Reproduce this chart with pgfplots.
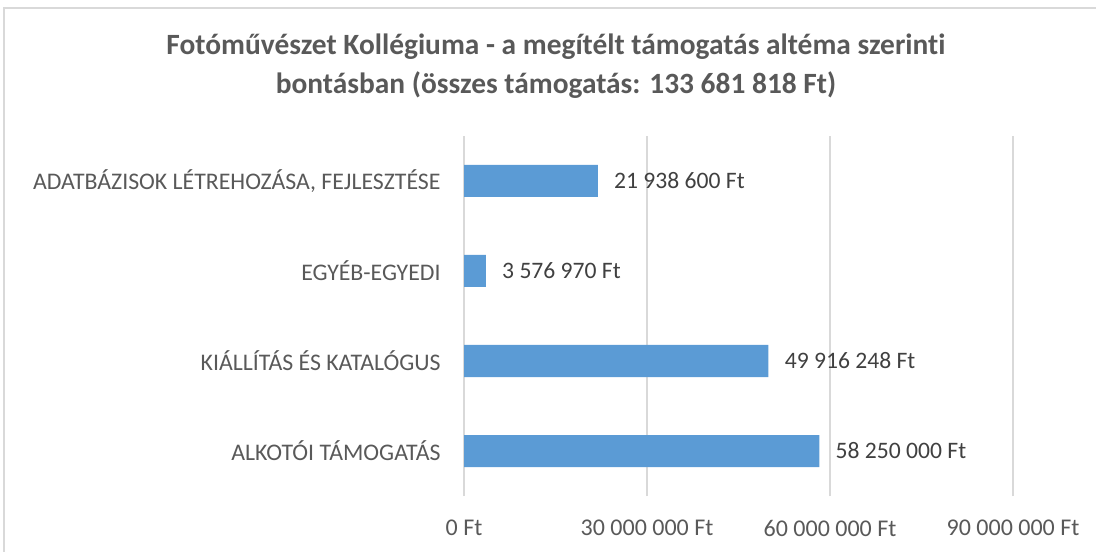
\documentclass[border=0pt]{standalone}
\usepackage{pgfplots}
\pgfplotsset{compat=1.18}
\usepackage{fontspec}
\setmainfont{Carlito}[Ligatures={NoCommon}]
\definecolor{barblue}{HTML}{5B9BD5}
\definecolor{gridc}{HTML}{D9D9D9}
\definecolor{titlec}{HTML}{595959}
\definecolor{labc}{HTML}{404040}
\begin{document}
\begin{tikzpicture}
\useasboundingbox (0,0) rectangle (548pt,275.5pt);
\draw[gridc, line width=0.6pt] (2pt,-5pt) -- (2pt,271.5pt) -- (560pt,271.5pt);
\node[font=\fontsize{14.7pt}{17pt}\selectfont\bfseries, text=titlec] at (278pt,252pt) {Fotóművészet Kollégiuma - a megítélt támogatás altéma szerinti};
\node[font=\fontsize{14.7pt}{17pt}\selectfont\bfseries, text=titlec] at (278pt,233pt) {bontásban (összes támogatás: 133 681 818 Ft)};
\begin{axis}[
  at={(232pt,27.5pt)}, anchor=south west,
  width=274.5pt, height=180pt, scale only axis,
  xbar, bar width=16pt,
  xmin=0, xmax=90000000,
  ymin=-0.5, ymax=3.5,
  axis line style={draw=none},
  major tick length=0pt,
  xtick={0,30000000,60000000,90000000},
  xticklabels={0 Ft,30 000 000 Ft,60 000 000 Ft,90 000 000 Ft},
  scaled x ticks=false,
  ytick={0,1,2,3},
  yticklabels={ALKOTÓI TÁMOGATÁS,KIÁLLÍTÁS ÉS KATALÓGUS,EGYÉB-EGYEDI,{ADATBÁZISOK LÉTREHOZÁSA, FEJLESZTÉSE}},
  xmajorgrids, grid style={gridc, line width=0.7pt},
  xticklabel style={anchor=center, yshift=-16pt, text=titlec, font=\fontsize{12pt}{14pt}\selectfont},
  yticklabel style={anchor=east, inner sep=0pt, xshift=-11.5pt, text=titlec, font=\fontsize{11.9pt}{14pt}\selectfont},
  point meta=explicit symbolic,
  nodes near coords,
  every node near coord/.append style={anchor=west, inner sep=0pt, xshift=8pt, text=labc, font=\fontsize{11.8pt}{14pt}\selectfont},
  clip=false,
]
\addplot[fill=barblue, draw=none] coordinates {
  (58250000,0) [58 250 000 Ft]
  (49916248,1) [49 916 248 Ft]
  (3576970,2) [3 576 970 Ft]
  (21938600,3) [21 938 600 Ft]
};
\end{axis}
\end{tikzpicture}
\end{document}
